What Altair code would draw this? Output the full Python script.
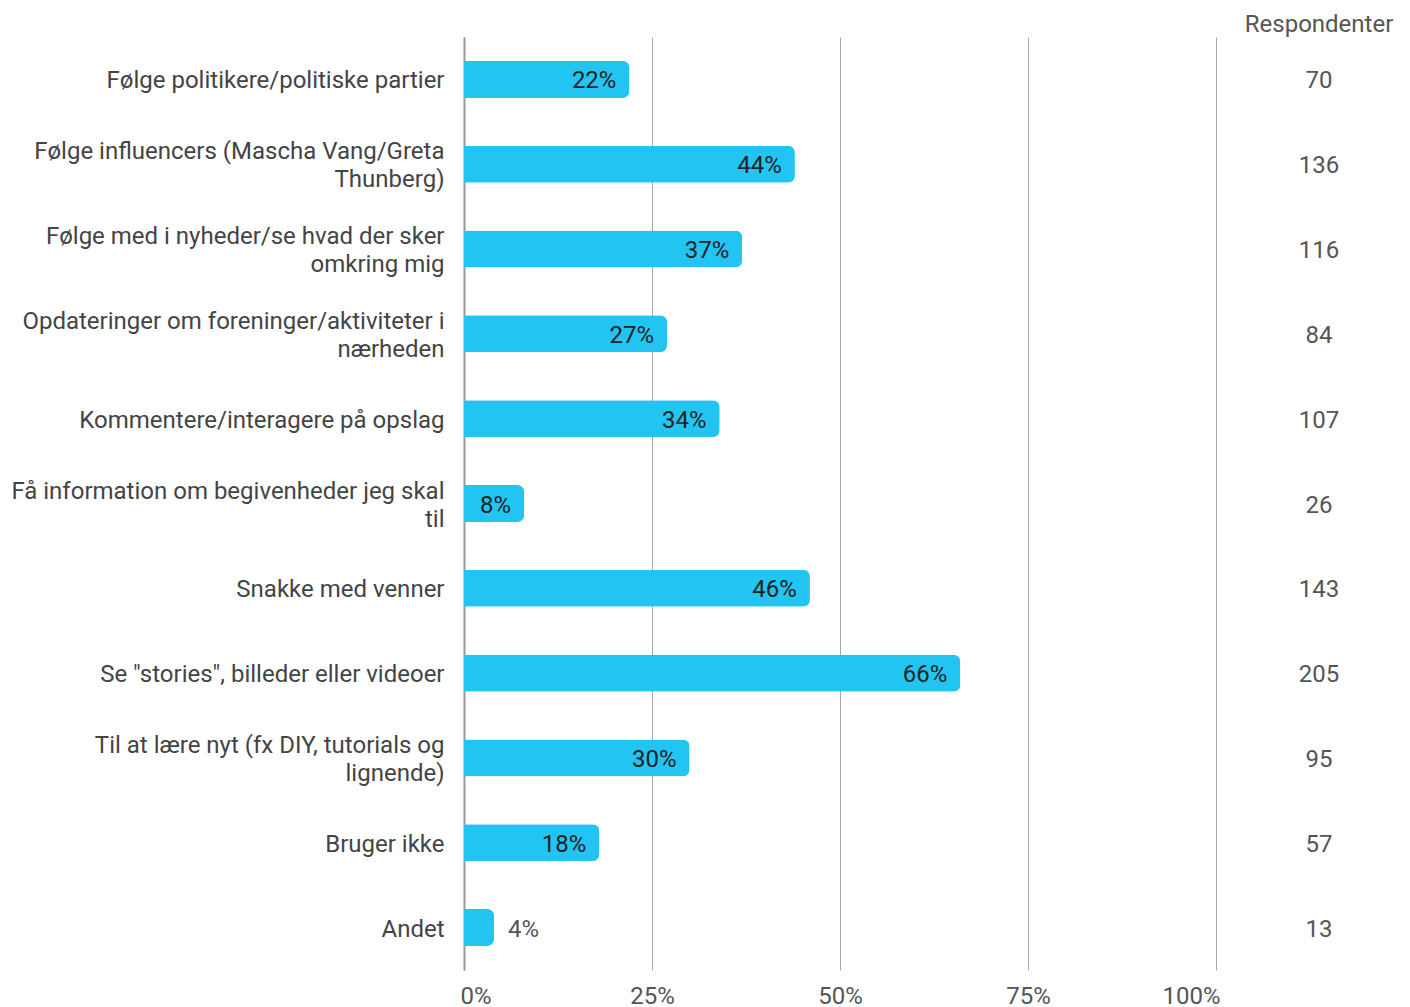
import altair as alt
import pandas as pd

categories = [
    "Følge politikere/politiske partier",
    "Følge influencers (Mascha Vang/Greta|Thunberg)",
    "Følge med i nyheder/se hvad der sker|omkring mig",
    "Opdateringer om foreninger/aktiviteter i|nærheden",
    "Kommentere/interagere på opslag",
    "Få information om begivenheder jeg skal|til",
    "Snakke med venner",
    "Se \"stories\", billeder eller videoer",
    "Til at lære nyt (fx DIY, tutorials og|lignende)",
    "Bruger ikke",
    "Andet",
]
percents = [22, 44, 37, 27, 34, 8, 46, 66, 30, 18, 4]
respondents = [70, 136, 116, 84, 107, 26, 143, 205, 95, 57, 13]

df = pd.DataFrame({
    "cat": categories,
    "pct": percents,
    "n": respondents,
})
df["label"] = df["pct"].astype(str) + "%"
df["col"] = 113.7

FONT = "Roboto"
BLUE = "#22C4F2"
FS = 24

y_enc = alt.Y(
    "cat:N",
    sort=categories,
    scale=alt.Scale(paddingInner=0.564, paddingOuter=0.282),
    axis=alt.Axis(
        title=None,
        ticks=False,
        labelPadding=20,
        labelLimit=600,
        labelFontSize=FS,
        labelFont=FONT,
        labelColor="#444444",
        labelLineHeight=28,
        labelExpr="split(datum.label, '|')",
        labelOffset={"condition": {"test": "indexof(datum.value, '|') >= 0", "value": -12}, "value": 2},
        domain=True,
        domainColor="#9a9a9a",
        domainWidth=2,
        grid=False,
    ),
)

x_scale = alt.Scale(domain=[0, 100], nice=False)

bars = alt.Chart(df).mark_bar(color=BLUE, cornerRadiusEnd=7).encode(
    x=alt.X(
        "pct:Q",
        scale=x_scale,
        axis=alt.Axis(
            title=None,
            values=[0, 25, 50, 75, 100],
            labelExpr="datum.value + '%'",
            labelFontSize=FS,
            labelFont=FONT,
            labelColor="#555555",
            labelPadding=14,
            labelFlush=True,
            labelFlushOffset=4,
            ticks=False,
            domain=False,
            grid=True,
            gridColor="#a8a8a8",
            gridWidth=1,
        ),
    ),
    y=y_enc,
)

inside = alt.Chart(df).transform_filter("datum.pct >= 5").mark_text(
    align="right", baseline="middle", dx=-13, dy=2, fontSize=FS, font=FONT, color="#222222"
).encode(
    x=alt.X("pct:Q", scale=x_scale),
    y=alt.Y("cat:N", sort=categories),
    text="label:N",
)

outside = alt.Chart(df).transform_filter("datum.pct < 5").mark_text(
    align="left", baseline="middle", dx=14, dy=2, fontSize=FS, font=FONT, color="#555555"
).encode(
    x=alt.X("pct:Q", scale=x_scale),
    y=alt.Y("cat:N", sort=categories),
    text="label:N",
)

counts = alt.Chart(df).mark_text(
    align="center", baseline="middle", dy=2, fontSize=FS, font=FONT, color="#555555"
).encode(
    x=alt.X("col:Q", scale=x_scale),
    y=alt.Y("cat:N", sort=categories),
    text="n:Q",
)

header_df = pd.DataFrame({"col": [113.7], "t": ["Respondenter"]})
header = alt.Chart(header_df).mark_text(
    align="center", baseline="middle", fontSize=FS, font=FONT, color="#555555"
).encode(
    x=alt.X("col:Q", scale=x_scale),
    y=alt.value(-12),
    text="t:N",
)

chart = alt.layer(bars, inside, outside, counts, header).properties(
    width=752,
    height=933,
    background="white",
    autosize=alt.AutoSizeParams(type="none"),
    padding={"left": 456, "top": 29, "right": 182, "bottom": 38},
).configure_view(stroke=None)

chart.save("out.html", embed_options={"renderer": "svg", "actions": False})
